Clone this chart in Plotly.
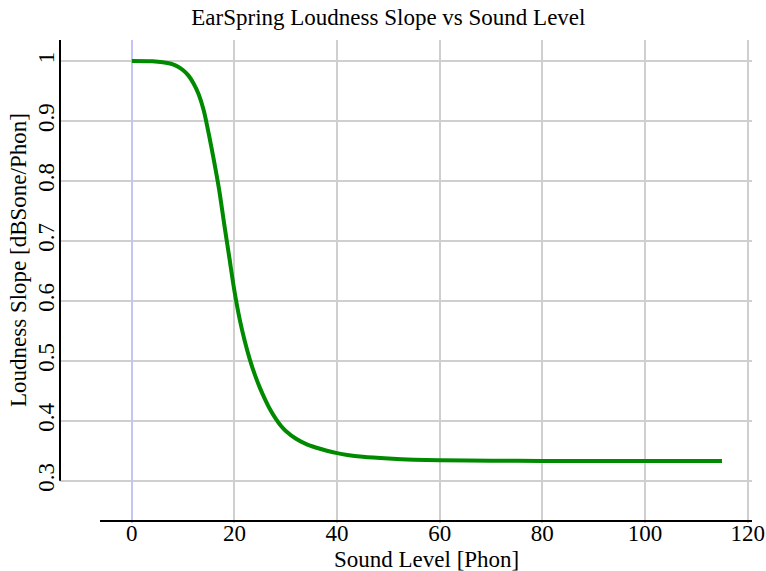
import plotly.graph_objects as go

# Data
sound_level = [0, 4, 6, 8, 9, 10, 11, 12, 13, 14, 15, 16, 17, 18, 19, 20, 21, 22, 23, 24,
               25, 26, 27, 28, 29, 30, 32, 34, 36, 38, 40, 42, 45, 50, 55, 60, 70, 80, 90,
               100, 115]
loudness_slope = [1.000, 0.9995, 0.998, 0.9945, 0.9905, 0.9845, 0.976, 0.963, 0.945, 0.918,
                  0.878, 0.834, 0.786, 0.728, 0.672, 0.616, 0.570, 0.533, 0.502, 0.476,
                  0.454, 0.435, 0.418, 0.404, 0.392, 0.383, 0.370, 0.361, 0.355, 0.350,
                  0.346, 0.343, 0.340, 0.337, 0.335, 0.334, 0.3335, 0.333, 0.333, 0.333,
                  0.333]

x_ticks = [0, 20, 40, 60, 80, 100, 120]
y_ticks = [0.3, 0.4, 0.5, 0.6, 0.7, 0.8, 0.9, 1.0]
y_tick_text = ["0.3", "0.4", "0.5", "0.6", "0.7", "0.8", "0.9", "1"]

title_text = "EarSpring Loudness Slope vs Sound Level"
x_title = "Sound Level [Phon]"
y_title = "Loudness Slope [dBSone/Phon]"

FONT = "Liberation Serif, Times New Roman, serif"
FS = 23
W, H = 766, 571
L, R, T, B = 60, 14, 40, 48
X_RANGE = [-14.0, 120.85]
Y_RANGE = [0.2295, 1.035]
X_AXIS_START = -6.2
Y_AXIS_START = 0.3

def xfrac(v):
    return (v - X_RANGE[0]) / (X_RANGE[1] - X_RANGE[0])

def yfrac(v):
    return (v - Y_RANGE[0]) / (Y_RANGE[1] - Y_RANGE[0])

pw = W - L - R
ph = H - T - B

fig = go.Figure()
fig.add_trace(go.Scatter(
    x=sound_level, y=loudness_slope, mode="lines",
    line=dict(color="#008a00", width=4, shape="spline", smoothing=0.9),
    showlegend=False, hoverinfo="skip",
))

fig.update_layout(
    width=W, height=H,
    margin=dict(l=L, r=R, t=T, b=B, autoexpand=False),
    paper_bgcolor="white", plot_bgcolor="white",
    font=dict(family=FONT, size=FS, color="black"),
    title=dict(text=title_text, x=0.507, xref="container", xanchor="center",
               y=1 - 17 / H, yref="container", yanchor="middle",
               font=dict(family=FONT, size=FS, color="black")),
    xaxis=dict(range=X_RANGE, tickvals=x_ticks, ticks="", showline=False,
               showgrid=True, gridcolor="#cfcfcf", gridwidth=2,
               zeroline=True, zerolinecolor="#c4c4f6", zerolinewidth=2,
               ticklabelstandoff=-6,
               tickfont=dict(family=FONT, size=FS), automargin=False),
    yaxis=dict(range=Y_RANGE, tickvals=y_ticks, ticktext=y_tick_text, ticks="",
               tickangle=-90, showline=False, showgrid=True, gridcolor="#cfcfcf",
               gridwidth=2, zeroline=False,
               tickfont=dict(family=FONT, size=FS), automargin=False),
    shapes=[
        dict(type="line", xref="paper", yref="paper",
             x0=xfrac(X_AXIS_START), x1=1.0, y0=yfrac(0.2328), y1=yfrac(0.2328),
             line=dict(color="black", width=2)),
        dict(type="line", xref="paper", yref="paper",
             x0=0.0, x1=0.0, y0=yfrac(Y_AXIS_START), y1=1.0,
             line=dict(color="black", width=2)),
    ],
    annotations=[
        dict(text=x_title, xref="paper", yref="paper",
             x=(426 - L) / pw, y=(H - B - 559) / ph, xanchor="center", yanchor="middle",
             showarrow=False, font=dict(family=FONT, size=FS)),
        dict(text=y_title, xref="paper", yref="paper", textangle=-90,
             x=(18 - L) / pw, y=(H - B - 260) / ph, xanchor="center", yanchor="middle",
             showarrow=False, font=dict(family=FONT, size=FS)),
    ],
)

fig.write_html("out.html", post_script="document.body.style.margin='0';",
               config={"displayModeBar": False})
